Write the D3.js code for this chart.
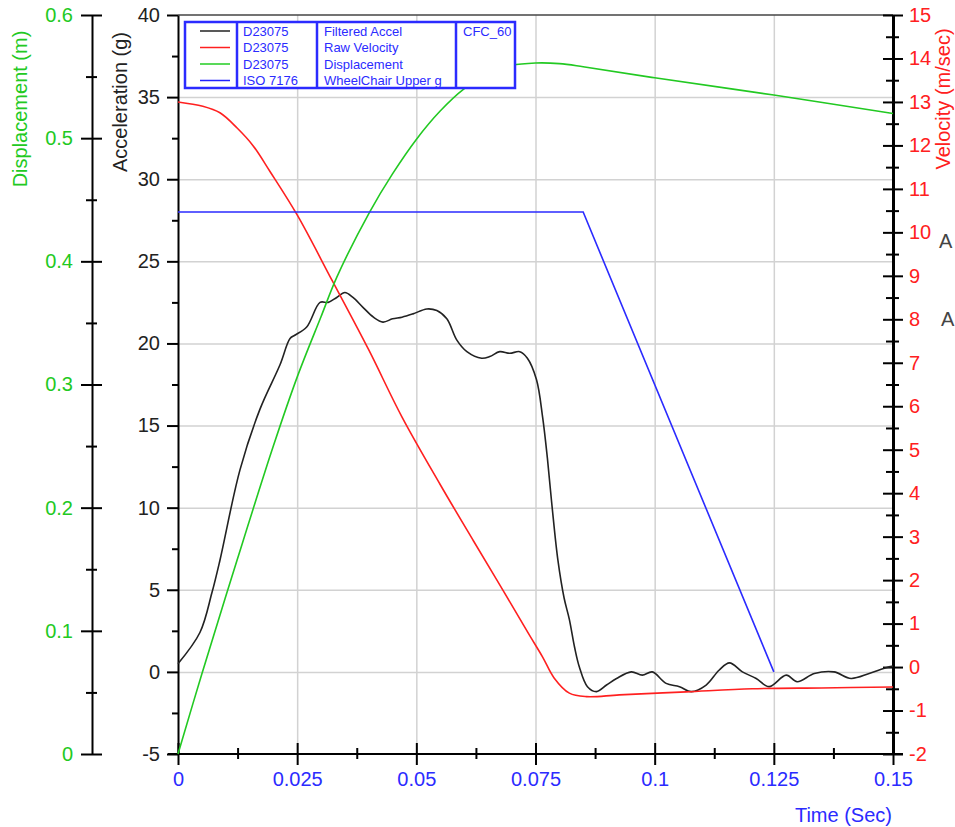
<!DOCTYPE html>
<html>
<head>
<meta charset="utf-8">
<script src="https://cdn.jsdelivr.net/npm/d3@7"></script>
<style>
  html, body { margin: 0; padding: 0; background: #fff; }
  svg { display: block; font-family: "Liberation Sans", Arial, sans-serif; }
</style>
</head>
<body>
<svg id="chart" width="955" height="827"></svg>
<script>
// sled pulse: filtered accel (g), raw velocity (m/s), displacement (m), ISO limit (g)
const accelData = [
  [0, 0.5], [0.0046, 2.4], [0.0071, 4.8], [0.0088, 6.8], [0.013, 12.3], [0.0172, 16],
  [0.0214, 18.7], [0.0235, 20.3], [0.0245, 20.5], [0.027, 21], [0.0298, 22.5], [0.0315, 22.5],
  [0.0333, 22.8], [0.035, 23.1], [0.0367, 22.8], [0.0388, 22.2], [0.041, 21.6], [0.043, 21.3],
  [0.045, 21.5], [0.047, 21.6], [0.0493, 21.8], [0.0522, 22.1], [0.0543, 22.0], [0.0564, 21.5],
  [0.0585, 20.2], [0.0606, 19.5], [0.0637, 19.1], [0.0654, 19.2], [0.0675, 19.5], [0.0696, 19.4],
  [0.0717, 19.5], [0.0733, 19.1], [0.0752, 17.8], [0.0765, 15.5], [0.0775, 13.0], [0.0785, 10.0],
  [0.0797, 6.8], [0.081, 4.5], [0.0821, 3.2], [0.0832, 1.5], [0.0842, 0.3], [0.0859, -0.9],
  [0.0878, -1.2], [0.0899, -0.8], [0.092, -0.4], [0.0951, 0], [0.0974, -0.2], [0.0995, 0],
  [0.1024, -0.7], [0.1052, -0.9], [0.1077, -1.2], [0.1108, -0.8], [0.1135, 0.1], [0.1157, 0.55],
  [0.1184, 0], [0.1213, -0.4], [0.124, -0.9], [0.1276, -0.2], [0.1299, -0.6], [0.1335, -0.1],
  [0.1376, 0], [0.1412, -0.4], [0.145, -0.1], [0.1485, 0.25], [0.15, 0.35]
];
const velocityData = [
  [0, 13.0], [0.0052, 12.9], [0.0088, 12.75], [0.0124, 12.4], [0.0157, 12.0], [0.0193, 11.4],
  [0.025, 10.4], [0.0323, 8.9], [0.04, 7.3], [0.047, 5.75], [0.055, 4.2], [0.062, 2.9],
  [0.068, 1.8], [0.0737, 0.74], [0.0765, 0.23], [0.0789, -0.25], [0.0821, -0.6], [0.0857, -0.68],
  [0.0926, -0.64], [0.1066, -0.57], [0.1205, -0.5], [0.135, -0.48], [0.15, -0.46]
];
const displacementData = [
  [0, 0], [0.005, 0.065], [0.0124, 0.1575], [0.02, 0.25], [0.025, 0.306], [0.03, 0.355],
  [0.0333, 0.387], [0.0402, 0.44], [0.045, 0.471], [0.05, 0.499], [0.055, 0.522], [0.06, 0.54],
  [0.065, 0.552], [0.07, 0.559], [0.075, 0.561], [0.08, 0.5605], [0.085, 0.558], [0.1, 0.549],
  [0.125, 0.535], [0.15, 0.52]
];
const isoLimitData = [[0, 28], [0.085, 28], [0.125, 0]];

const timeTicks = [0, 0.025, 0.05, 0.075, 0.1, 0.125, 0.15];
const timeMinor = [0.0125, 0.0375, 0.0625, 0.0875, 0.1125, 0.1375];
const accelTicks = [-5, 0, 5, 10, 15, 20, 25, 30, 35, 40];
const accelMinor = [-2.5, 2.5, 7.5, 12.5, 17.5, 22.5, 27.5, 32.5, 37.5];
const dispTicks = [0, 0.1, 0.2, 0.3, 0.4, 0.5, 0.6];
const dispMinor = [0.05, 0.15, 0.25, 0.35, 0.45, 0.55];
const velTicks = d3.range(-2, 16, 1);
const velMinor = d3.range(-1.5, 15, 1);

const legendRows = [
  { color: '#222222', source: 'D23075', name: 'Filtered Accel' },
  { color: '#ff2020', source: 'D23075', name: 'Raw Velocity' },
  { color: '#22cc22', source: 'D23075', name: 'Displacement' },
  { color: '#2020ff', source: 'ISO 7176', name: 'WheelChair Upper g' }
];
const filterLabel = 'CFC_60';

const GREEN = '#22c922', RED = '#ff2020', BLUE = '#2b2bff', BLACK = '#222222';

const svg = d3.select('#chart');
const x = d3.scaleLinear().domain([0, 0.15]).range([178, 893]);
const yAcc = d3.scaleLinear().domain([-5, 40]).range([754, 15]);
const yDisp = d3.scaleLinear().domain([0, 0.6]).range([754, 15]);
const yVel = d3.scaleLinear().domain([-2, 15]).range([754, 15]);
const fmt = d => String(d);

// grid
svg.append('g').attr('transform', `translate(0,${yAcc(-5)})`)
  .call(d3.axisBottom(x).tickValues(timeTicks.slice(1, -1)).tickSize(-(yAcc(-5) - yAcc(40))).tickFormat(''))
  .call(g => g.select('.domain').remove())
  .call(g => g.selectAll('line').attr('stroke', '#d2d2d2').attr('stroke-width', 1.5));
svg.append('g').attr('transform', `translate(${x(0)},0)`)
  .call(d3.axisLeft(yAcc).tickValues(accelTicks.slice(1, -1)).tickSize(-(x(0.15) - x(0))).tickFormat(''))
  .call(g => g.select('.domain').remove())
  .call(g => g.selectAll('line').attr('stroke', '#d2d2d2').attr('stroke-width', 1.5));

// top border
svg.append('line').attr('x1', x(0)).attr('x2', x(0.15)).attr('y1', yAcc(40)).attr('y2', yAcc(40))
  .attr('stroke', '#444').attr('stroke-width', 1.5);

function styleAxis(g, color) {
  g.select('.domain').attr('stroke', '#000').attr('stroke-width', 2);
  g.selectAll('.tick line').attr('stroke', '#000').attr('stroke-width', 2);
  g.selectAll('text').attr('fill', color).style('font-size', '20px')
    .style('font-family', '"Liberation Sans", Arial, sans-serif');
}

// displacement axis (far left)
svg.append('g').attr('transform', 'translate(92,0)')
  .call(d3.axisLeft(yDisp).tickValues(dispTicks).tickSize(11).tickSizeOuter(0).tickPadding(8).tickFormat(fmt))
  .call(g => styleAxis(g, GREEN))
  .call(g => g.selectAll('.tick line').attr('x1', 10));
svg.append('g').attr('transform', 'translate(92,0)')
  .call(d3.axisLeft(yDisp).tickValues(dispMinor).tickSize(6).tickFormat(''))
  .call(g => g.select('.domain').remove())
  .call(g => g.selectAll('.tick line').attr('stroke', '#000').attr('stroke-width', 2).attr('x1', 5));

// acceleration axis
svg.append('g').attr('transform', `translate(${x(0)},0)`)
  .call(d3.axisLeft(yAcc).tickValues(accelTicks).tickSize(11).tickSizeOuter(0).tickPadding(7).tickFormat(fmt))
  .call(g => styleAxis(g, '#222'));
svg.append('g').attr('transform', `translate(${x(0)},0)`)
  .call(d3.axisLeft(yAcc).tickValues(accelMinor).tickSize(6).tickFormat(''))
  .call(g => g.select('.domain').remove())
  .call(g => g.selectAll('.tick line').attr('stroke', '#000').attr('stroke-width', 2));

// velocity axis (right)
svg.append('g').attr('transform', `translate(${x(0.15)},0)`)
  .call(d3.axisRight(yVel).tickValues(velTicks).tickSize(10).tickSizeOuter(0).tickPadding(6).tickFormat(fmt))
  .call(g => styleAxis(g, RED))
  .call(g => g.select('.domain').attr('stroke-width', 3))
  .call(g => g.selectAll('.tick line').attr('x1', -10));
svg.append('g').attr('transform', `translate(${x(0.15)},0)`)
  .call(d3.axisRight(yVel).tickValues(velMinor).tickSize(6).tickFormat(''))
  .call(g => g.select('.domain').remove())
  .call(g => g.selectAll('.tick line').attr('stroke', '#000').attr('stroke-width', 2).attr('x1', -7));

// time axis
svg.append('g').attr('transform', `translate(0,${yAcc(-5)})`)
  .call(d3.axisBottom(x).tickValues(timeTicks).tickSize(11).tickSizeOuter(0).tickPadding(7).tickFormat(fmt))
  .call(g => styleAxis(g, BLUE))
  .call(g => g.select('.domain').remove())
  .call(g => g.selectAll('.tick line').attr('y1', -11));
svg.append('g').attr('transform', `translate(0,${yAcc(-5)})`)
  .call(d3.axisBottom(x).tickValues(timeMinor).tickSize(5).tickFormat(''))
  .call(g => g.select('.domain').remove())
  .call(g => g.selectAll('.tick line').attr('stroke', '#000').attr('stroke-width', 2).attr('y1', -6));
svg.append('line').attr('x1', x(0) - 10).attr('x2', x(0.15) + 10)
  .attr('y1', yAcc(-5)).attr('y2', yAcc(-5)).attr('stroke', '#000').attr('stroke-width', 2);

// axis titles
svg.append('text').attr('transform', 'translate(27,109) rotate(-90)').attr('text-anchor', 'middle')
  .attr('fill', GREEN).style('font-size', '20px').text('Displacement (m)');
svg.append('text').attr('transform', 'translate(127,102) rotate(-90)').attr('text-anchor', 'middle')
  .attr('fill', '#222').style('font-size', '20px').text('Acceleration (g)');
svg.append('text').attr('transform', 'translate(950,99) rotate(-90)').attr('text-anchor', 'middle')
  .attr('fill', RED).style('font-size', '20px').text('Velocity (m/sec)');
svg.append('text').attr('x', 892).attr('y', 822).attr('text-anchor', 'end')
  .attr('fill', BLUE).style('font-size', '20px').text('Time (Sec)');

// stray letters at the right edge
svg.append('text').attr('x', 939).attr('y', 248).attr('fill', '#444').style('font-size', '20px').text('A');
svg.append('text').attr('x', 941).attr('y', 326).attr('fill', '#444').style('font-size', '20px').text('A');

// curves
const plot = svg.append('g');
const mk = (ys) => d3.line().x(d => x(d[0])).y(d => ys(d[1])).curve(d3.curveCatmullRom.alpha(0.5));
plot.append('path').datum(accelData).attr('d', mk(yAcc))
  .attr('fill', 'none').attr('stroke', BLACK).attr('stroke-width', 1.6);
plot.append('path').datum(velocityData).attr('d', mk(yVel))
  .attr('fill', 'none').attr('stroke', RED).attr('stroke-width', 1.6);
plot.append('path').datum(displacementData).attr('d', mk(yDisp))
  .attr('fill', 'none').attr('stroke', GREEN).attr('stroke-width', 1.6);
plot.append('path').datum(isoLimitData).attr('d', d3.line().x(d => x(d[0])).y(d => yAcc(d[1])))
  .attr('fill', 'none').attr('stroke', BLUE).attr('stroke-width', 1.6);

// legend table
const lg = svg.append('g').attr('transform', 'translate(185,22)');
const lgW = 330, lgH = 66, cols = [52, 132, 271];
lg.append('rect').attr('width', lgW).attr('height', lgH).attr('fill', '#fff')
  .attr('stroke', BLUE).attr('stroke-width', 2.5);
cols.forEach(c => lg.append('line').attr('x1', c).attr('x2', c).attr('y1', 0).attr('y2', lgH)
  .attr('stroke', BLUE).attr('stroke-width', 2.5));
const rowY = i => 9 + i * 16.5;
const rows = lg.selectAll('g.row').data(legendRows).join('g').attr('class', 'row')
  .attr('transform', (d, i) => `translate(0,${rowY(i)})`);
rows.append('line').attr('x1', 15).attr('x2', 45).attr('y1', 0).attr('y2', 0)
  .attr('stroke', d => d.color).attr('stroke-width', 1.5);
rows.append('text').attr('x', 58).attr('y', 4.5).attr('fill', BLUE).style('font-size', '13px').text(d => d.source);
rows.append('text').attr('x', 139).attr('y', 4.5).attr('fill', BLUE).style('font-size', '13px').text(d => d.name);
lg.append('text').attr('x', 278).attr('y', rowY(0) + 4.5).attr('fill', BLUE).style('font-size', '13px').text(filterLabel);
</script>
</body>
</html>
